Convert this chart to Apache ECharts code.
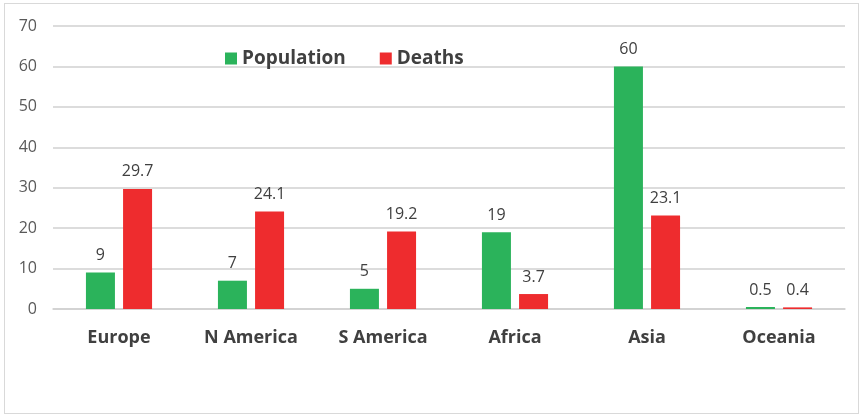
<!DOCTYPE html>
<html lang="en">
<head>
  <meta charset="UTF-8">
  <title>Population vs Deaths</title>
  <script src="https://cdn.jsdelivr.net/npm/echarts@6/dist/echarts.min.js"></script>
</head>
<body style="margin:0;width:859px;height:415px;overflow:hidden;background:#fff;">
  <div id="main" style="position:absolute;left:4px;top:3px;width:853px;height:409px;border:1px solid #d9d9d9;"></div>
</body>
<script>
  var regions = ['Europe', 'N America', 'S America', 'Africa', 'Asia', 'Oceania'];
  var population = [9, 7, 5, 19, 60, 0.5];
  var deaths = [29.7, 24.1, 19.2, 3.7, 23.1, 0.4];

  var myChart = echarts.init(document.getElementById('main'));
  var font = '"Open Sans", sans-serif';

  var option = {
    backgroundColor: '#fff',
    textStyle: { fontFamily: font },
    legend: {
      left: 215,
      top: 40,
      itemWidth: 12,
      itemHeight: 12,
      itemGap: 34,
      icon: 'rect',
      textStyle: { fontSize: 19, fontWeight: 'bold', color: '#404040', fontFamily: font },
      data: ['Population', 'Deaths']
    },
    grid: { left: 48, right: 13, top: 22, bottom: 104, containLabel: false },
    xAxis: {
      type: 'category',
      data: regions,
      axisLine: { lineStyle: { color: '#d0d0d0', width: 1.5 } },
      axisTick: { show: false },
      axisLabel: { fontSize: 18, fontWeight: 'bold', color: '#404040', margin: 20, fontFamily: font }
    },
    yAxis: {
      type: 'value',
      min: 0,
      max: 70,
      interval: 10,
      axisLine: { show: false },
      axisTick: { show: false },
      axisLabel: { fontSize: 16, color: '#595959', margin: 16, fontFamily: font },
      splitLine: { lineStyle: { color: '#d0d0d0', width: 1.5 } }
    },
    series: [{
      name: 'Population',
      type: 'bar',
      data: population,
      barWidth: 29,
      barGap: '28%',
      itemStyle: { color: '#2bb35b' },
      label: { show: true, position: 'top', distance: 9, fontSize: 16, color: '#404040', fontFamily: font }
    }, {
      name: 'Deaths',
      type: 'bar',
      data: deaths,
      barWidth: 29,
      itemStyle: { color: '#ee2c2e' },
      label: { show: true, position: 'top', distance: 9, fontSize: 16, color: '#404040', fontFamily: font }
    }]
  };

  myChart.setOption(option);
</script>
</html>
